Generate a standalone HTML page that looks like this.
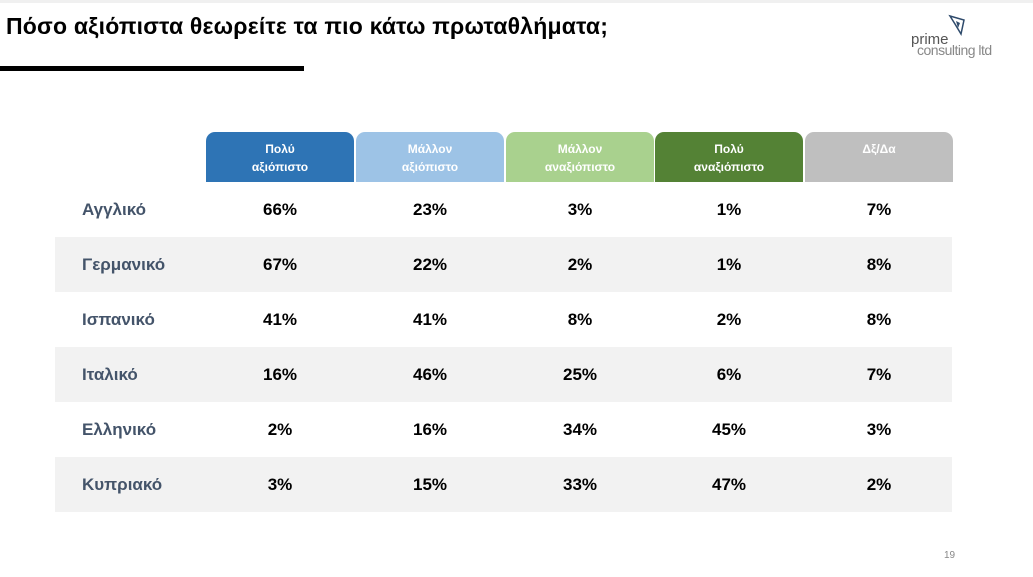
<!DOCTYPE html>
<html><head><meta charset="utf-8"><style>
body{margin:0;width:1033px;height:577px;background:#fff;position:relative;overflow:hidden;font-family:"Liberation Sans","DejaVu Sans",sans-serif}
.top{position:absolute;left:0;top:0;width:1033px;height:3px;background:#f0f0f0}
.title{position:absolute;left:6px;top:13px;font-size:23px;font-weight:bold;color:#000;letter-spacing:0.2px;white-space:nowrap}
.bar{position:absolute;left:0;top:66px;width:304px;height:5px;background:#000}
.logo{position:absolute;left:911px;top:34px;color:#555;font-size:15px;line-height:11px}
.h{position:absolute;top:132px;height:50px;width:148px;border-radius:9px 9px 0 0;color:#fff;font-size:12px;font-weight:bold;text-align:center;line-height:18px;padding-top:8px;box-sizing:border-box}
.row{position:absolute;left:55px;width:897px;height:55px}
.row span{position:absolute;top:0;line-height:55px;font-size:17px;font-weight:bold;color:#000;text-align:center;width:148px}
.row .l{left:27px;text-align:left;color:#44546a;width:150px}
.pg{position:absolute;left:944px;top:550px;font-size:10px;color:#888}
</style></head><body>
<div class="top"></div>
<div class="title">Πόσο αξιόπιστα θεωρείτε τα πιο κάτω πρωταθλήματα;</div>
<div class="bar"></div>
<div class="logo"><svg width="20" height="22" style="position:absolute;left:36px;top:-20px" viewBox="0 0 20 22"><path d="M3 2 L17 6 L14 20 L8 10 Z" fill="none" stroke="#2e4a6b" stroke-width="1.5"/><path d="M9 7 L13 9 L11 14Z" fill="#2e4a6b"/></svg>prime<br><span style="margin-left:6px;color:#888;font-size:14px;letter-spacing:-0.5px">consulting ltd</span></div>
<div class="h" style="left:206px;background:#2e74b5">Πολύ<br>αξιόπιστο</div>
<div class="h" style="left:356px;background:#9dc3e6">Μάλλον<br>αξιόπιστο</div>
<div class="h" style="left:506px;background:#a9d18e">Μάλλον<br>αναξιόπιστο</div>
<div class="h" style="left:655px;background:#548235">Πολύ<br>αναξιόπιστο</div>
<div class="h" style="left:805px;background:#bfbfbf">Δξ/Δα</div>
<div class="row" style="top:182px"><span class="l">Αγγλικό</span><span style="left:151px">66%</span><span style="left:301px">23%</span><span style="left:451px">3%</span><span style="left:600px">1%</span><span style="left:750px">7%</span></div>
<div class="row" style="top:237px;background:#f2f2f2"><span class="l">Γερμανικό</span><span style="left:151px">67%</span><span style="left:301px">22%</span><span style="left:451px">2%</span><span style="left:600px">1%</span><span style="left:750px">8%</span></div>
<div class="row" style="top:292px"><span class="l">Ισπανικό</span><span style="left:151px">41%</span><span style="left:301px">41%</span><span style="left:451px">8%</span><span style="left:600px">2%</span><span style="left:750px">8%</span></div>
<div class="row" style="top:347px;background:#f2f2f2"><span class="l">Ιταλικό</span><span style="left:151px">16%</span><span style="left:301px">46%</span><span style="left:451px">25%</span><span style="left:600px">6%</span><span style="left:750px">7%</span></div>
<div class="row" style="top:402px"><span class="l">Ελληνικό</span><span style="left:151px">2%</span><span style="left:301px">16%</span><span style="left:451px">34%</span><span style="left:600px">45%</span><span style="left:750px">3%</span></div>
<div class="row" style="top:457px;background:#f2f2f2"><span class="l">Κυπριακό</span><span style="left:151px">3%</span><span style="left:301px">15%</span><span style="left:451px">33%</span><span style="left:600px">47%</span><span style="left:750px">2%</span></div>
<div class="pg">19</div>
</body></html>
